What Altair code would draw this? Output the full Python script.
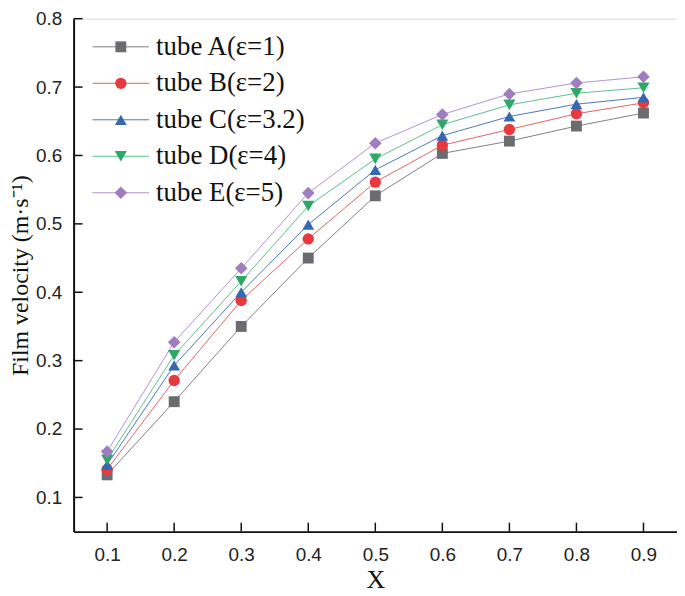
import altair as alt
import pandas as pd

x_vals = [0.1, 0.2, 0.3, 0.4, 0.5, 0.6, 0.7, 0.8, 0.9]
series = ["tube A(ε=1)", "tube B(ε=2)", "tube C(ε=3.2)", "tube D(ε=4)", "tube E(ε=5)"]
tube_a = [0.133, 0.240, 0.350, 0.450, 0.541, 0.603, 0.621, 0.643, 0.662]
tube_b = [0.141, 0.271, 0.388, 0.478, 0.561, 0.615, 0.638, 0.661, 0.677]
tube_c = [0.148, 0.293, 0.400, 0.499, 0.579, 0.629, 0.657, 0.675, 0.685]
tube_d = [0.155, 0.308, 0.416, 0.526, 0.595, 0.645, 0.674, 0.691, 0.699]
tube_e = [0.167, 0.327, 0.435, 0.545, 0.618, 0.660, 0.690, 0.706, 0.715]
all_vals = [tube_a, tube_b, tube_c, tube_d, tube_e]

shapes = ["square", "circle", "triangle-up", "triangle-down", "diamond"]
marker_sizes = [120, 160, 190, 190, 215]
marker_colors = ["#6b6c70", "#e8393e", "#3568b3", "#2ea866", "#a07cc0"]
line_colors = ["#808080", "#e06464", "#4b78bd", "#5cc08c", "#b292cf"]

y_ticks = [0.1, 0.2, 0.3, 0.4, 0.5, 0.6, 0.7, 0.8]
x_ticks = x_vals

rows = []
for s, vals in zip(series, all_vals):
    for xv, yv in zip(x_vals, vals):
        rows.append({"x": xv, "y": yv, "series": s})
df = pd.DataFrame(rows)

leg_df = pd.DataFrame({"series": series, "idx": list(range(len(series)))})

W, H = 607, 516
xscale = alt.Scale(domain=[0.05, 0.95], nice=False, zero=False)
yscale = alt.Scale(domain=[0.05, 0.8], nice=False, zero=False)
line_scale = alt.Scale(domain=series, range=line_colors)
fill_scale = alt.Scale(domain=series, range=marker_colors)
shape_scale = alt.Scale(domain=series, range=shapes)
size_scale = alt.Scale(domain=series, range=marker_sizes)

xaxis = alt.Axis(values=x_ticks, format=".1f", title="X", grid=False, ticks=False,
                 domainColor="#111111", domainWidth=2, labelFont="Liberation Sans",
                 labelFontSize=19, labelColor="#222222", labelPadding=14,
                 titleFont="Liberation Serif", titleFontSize=26, titleFontWeight="normal",
                 titleColor="#111111", titlePadding=2)
yaxis = alt.Axis(values=y_ticks, format=".1f", title="Film velocity (m·s⁻¹)", grid=False,
                 ticks=False, domainColor="#111111", domainWidth=2,
                 labelFont="Liberation Sans", labelFontSize=19, labelColor="#222222",
                 labelPadding=12, titleFont="Liberation Serif", titleFontSize=24,
                 titleFontWeight="normal", titleColor="#111111", titlePadding=3)

base = alt.Chart(df)
lines = base.mark_line(strokeWidth=1).encode(
    x=alt.X("x:Q", scale=xscale, axis=xaxis),
    y=alt.Y("y:Q", scale=yscale, axis=yaxis),
    color=alt.Color("series:N", scale=line_scale, legend=None),
    detail="series:N",
)
points = base.mark_point(filled=True, strokeWidth=0, opacity=1).encode(
    x=alt.X("x:Q", scale=xscale),
    y=alt.Y("y:Q", scale=yscale),
    fill=alt.Fill("series:N", scale=fill_scale, legend=None),
    shape=alt.Shape("series:N", scale=shape_scale, legend=None),
    size=alt.Size("series:N", scale=size_scale, legend=None),
)

ytick_df = pd.DataFrame({"v": y_ticks})
xtick_df = pd.DataFrame({"v": x_ticks})
yt = alt.Chart(ytick_df).mark_rule(color="#111111", strokeWidth=1.5).encode(
    y=alt.Y("v:Q", scale=yscale), x=alt.value(0), x2=alt.value(9))
xt = alt.Chart(xtick_df).mark_rule(color="#111111", strokeWidth=1.5).encode(
    x=alt.X("v:Q", scale=xscale), y=alt.value(H), y2=alt.value(H - 9))

leg = alt.Chart(leg_df).transform_calculate(ly="28.3 + 36.7 * datum.idx")
leg_rule = leg.mark_rule(strokeWidth=1).encode(
    y=alt.Y("ly:Q", scale=None, axis=None), x=alt.value(19), x2=alt.value(76),
    color=alt.Color("series:N", scale=line_scale, legend=None))
leg_pt = leg.mark_point(filled=True, strokeWidth=0, opacity=1).encode(
    y=alt.Y("ly:Q", scale=None, axis=None), x=alt.value(47.5),
    fill=alt.Fill("series:N", scale=fill_scale, legend=None),
    shape=alt.Shape("series:N", scale=shape_scale, legend=None),
    size=alt.Size("series:N", scale=size_scale, legend=None))
leg_txt = leg.mark_text(align="left", baseline="middle", font="Liberation Serif",
                        fontSize=27, color="#111111").encode(
    y=alt.Y("ly:Q", scale=None, axis=None), x=alt.value(83), text="series:N")

chart = alt.layer(lines, points, yt, xt, leg_rule, leg_pt, leg_txt).properties(
    width=W, height=H,
    autosize=alt.AutoSizeParams(type="none"),
    padding={"left": 66, "top": 9, "right": 0, "bottom": 62},
).configure_view(stroke="#a0a0a0", strokeWidth=1).configure(background="white")

chart.save("out.html", embed_options={"renderer": "svg", "actions": False})
